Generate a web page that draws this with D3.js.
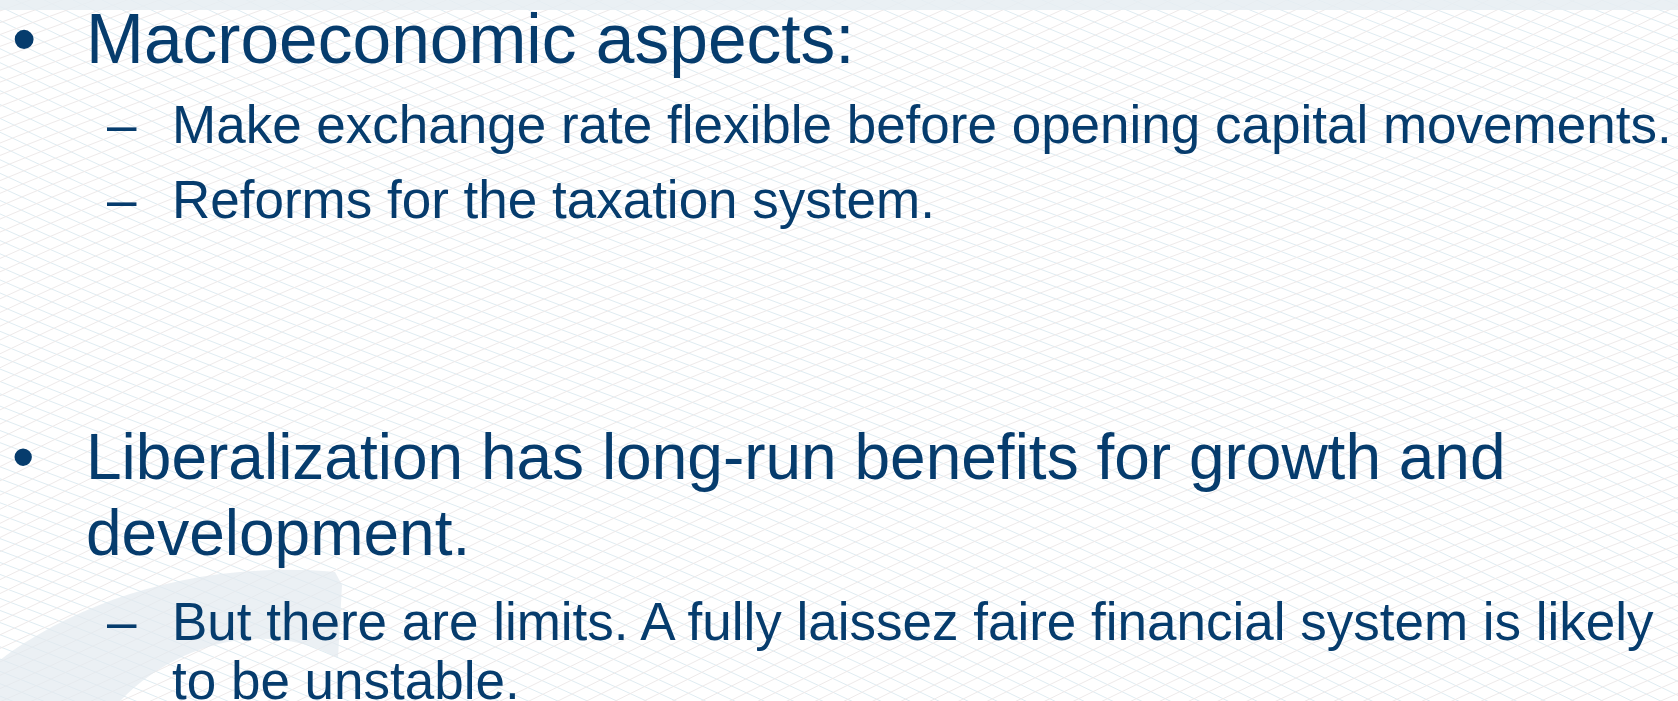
<!DOCTYPE html>
<html>
<head>
<meta charset="utf-8">
<script src="https://cdn.jsdelivr.net/npm/d3@7"></script>
<style>
  html, body { margin: 0; padding: 0; background: #fff; overflow: hidden; }
  svg { display: block; }
</style>
</head>
<body>
<div id="slide"></div>
<script>
(function (d3) {
	'use strict';

	// SLIDE CONTENT
	const bulletLevels = [0, 1, 1, 0, 1];
	const bulletTexts = [
		["Macroeconomic aspects:"],
		["Make exchange rate flexible before opening capital movements."],
		["Reforms for the taxation system."],
		["Liberalization has long-run benefits for growth and", "development."],
		["But there are limits. A fully laissez faire financial system is likely", "to be unstable."]
	];
	const bulletMarks = ["\u2022", "\u2013"];

	const width = 1678;
	const height = 701;
	const textColor = "#063c6d";

	const svg = d3.select("#slide").append("svg")
		.attr("width", width)
		.attr("height", height);

	// BACKGROUND MESH (decoration only)
	const bg = svg.append("g");
	bg.append("rect").attr("width", width).attr("height", height).attr("fill", "#ffffff");

	const curve = d3.line().curve(d3.curveBasis);
	const xs = d3.range(-40, width + 60, 30);
	d3.range(-800, height + 40, 13).forEach(c => {
		bg.append("path")
			.attr("d", curve(xs.map(x => [x, c + 0.43 * x + 14 * Math.sin(x / 240 + c / 170)])))
			.attr("fill", "none")
			.attr("stroke", "#dfecf2")
			.attr("stroke-width", 1);
	});
	d3.range(-40, height + 800, 13).forEach(c => {
		bg.append("path")
			.attr("d", curve(xs.map(x => [x, c - 0.43 * x + 14 * Math.sin(x / 210 - c / 150)])))
			.attr("fill", "none")
			.attr("stroke", "#eeeaea")
			.attr("stroke-width", 1);
	});

	// top strip and lower-left swoosh
	bg.append("rect")
		.attr("width", width).attr("height", 10)
		.attr("fill", "#e6edf2").attr("opacity", 0.85);
	bg.append("path")
		.attr("d", "M0,701 L0,660 C80,600 200,560 335,572 L342,585 L338,658 C270,620 180,640 120,701 Z")
		.attr("fill", "#e2e9ef")
		.attr("opacity", 0.7);

	// TEXT LAYOUT
	const itemSize = [69.5, 53, 53, 64, 53];
	const levelX = [
		{ markX: 12, textX: 86 },
		{ markX: 107, textX: 172 }
	];
	const baselines = [63, 143, 218, 479, 640];
	const wrapGap = [76, 76, 76, 76, 59];

	const g = svg.append("g")
		.attr("font-family", "'Liberation Sans', Arial, sans-serif")
		.attr("fill", textColor);

	bulletTexts.forEach((lines, i) => {
		const lx = levelX[bulletLevels[i]];
		const item = g.append("g").attr("font-size", itemSize[i]);
		item.append("text")
			.attr("x", lx.markX)
			.attr("y", baselines[i])
			.text(bulletMarks[bulletLevels[i]]);
		item.selectAll("text.line")
			.data(lines)
			.enter().append("text")
			.attr("class", "line")
			.attr("x", lx.textX)
			.attr("y", (d, j) => baselines[i] + j * wrapGap[i])
			.text(d => d);
	});
}(d3));
</script>
</body>
</html>
